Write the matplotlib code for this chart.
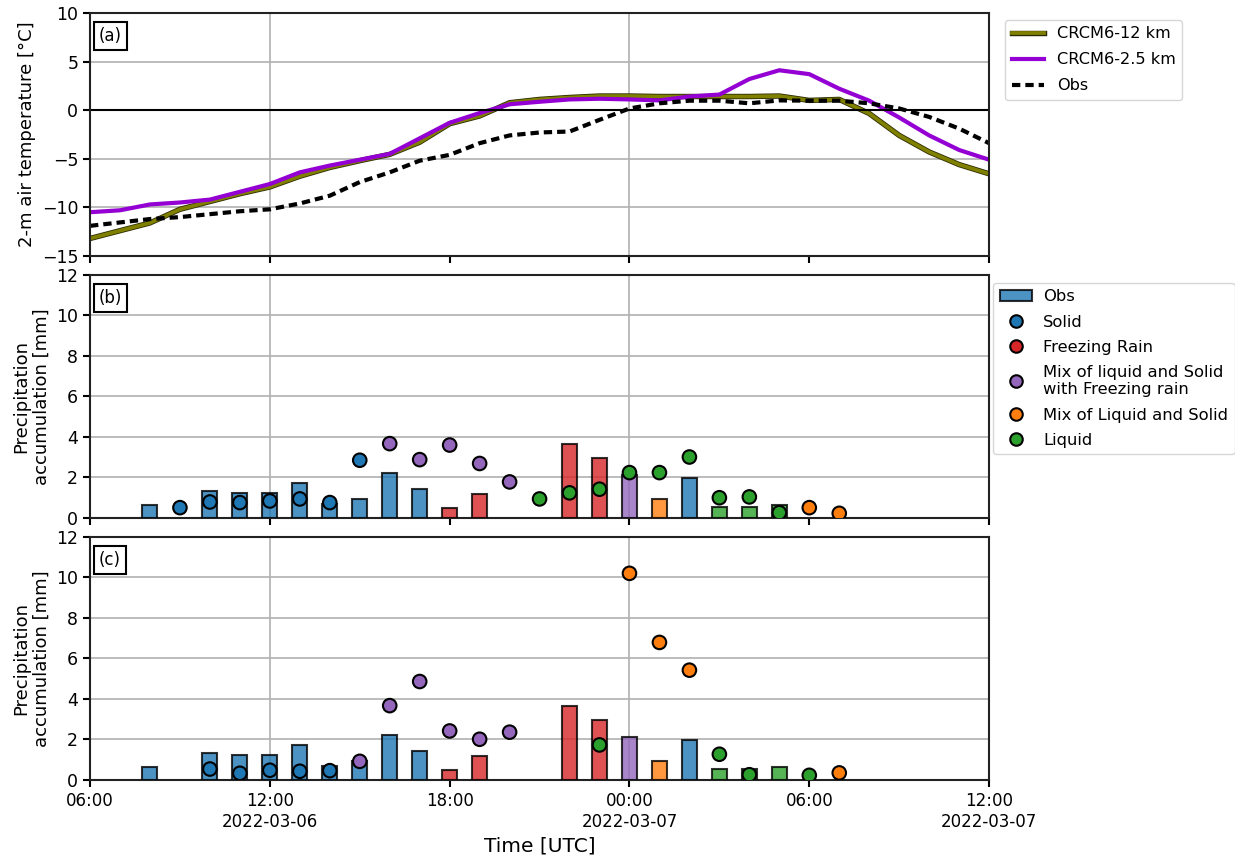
import numpy as np
import pandas as pd
import matplotlib
matplotlib.use("Agg")
import matplotlib.pyplot as plt
import matplotlib.dates as mdates
import matplotlib.patheffects as pe
from matplotlib.patches import Patch
from matplotlib.lines import Line2D

plt.rcParams['font.size'] = 12

# hourly time axis, 2022-03-06 06 UTC -> 2022-03-07 12 UTC
times = pd.date_range("2022-03-06 06:00", "2022-03-07 12:00", freq="h")

# 2-m air temperature [degC]
t_12km = [-13.2, -12.4, -11.6, -10.2, -9.4, -8.6, -7.9, -6.8, -5.9, -5.2, -4.55,
          -3.3, -1.4, -0.6, 0.76, 1.1, 1.3, 1.45, 1.45, 1.4, 1.4, 1.4, 1.4, 1.45,
          1.0, 1.1, -0.35, -2.6, -4.3, -5.6, -6.55]
t_25km = [-10.5, -10.3, -9.7, -9.5, -9.2, -8.4, -7.6, -6.4, -5.7, -5.1, -4.5,
          -2.9, -1.3, -0.3, 0.6, 0.86, 1.1, 1.17, 1.1, 1.0, 1.4, 1.6, 3.2, 4.1,
          3.7, 2.2, 0.97, -0.76, -2.6, -4.1, -5.1]
t_obs = [-11.9, -11.55, -11.2, -11.0, -10.7, -10.4, -10.2, -9.6, -8.8, -7.4, -6.4,
         -5.2, -4.6, -3.4, -2.6, -2.3, -2.2, -1.0, 0.17, 0.7, 0.97, 0.97, 0.7, 1.0,
         0.97, 0.97, 0.7, 0.17, -0.7, -1.9, -3.4]

# precipitation type codes
ptypes = ["Solid", "Freezing Rain", "Mix of liquid and Solid\nwith Freezing rain",
          "Mix of Liquid and Solid", "Liquid"]
pcolors = ["tab:blue", "tab:red", "tab:purple", "tab:orange", "tab:green"]

# observed hourly accumulation [mm] and type (index in ptypes), NaN = no precip
obs_pr = [np.nan, np.nan, 0.66, np.nan, 1.33, 1.25, 1.25, 1.75, 0.7, 0.94, 2.2,
          1.42, 0.49, 1.17, np.nan, np.nan, 3.67, 2.98, 2.12, 0.94, 1.98, 0.56,
          0.56, 0.63, np.nan, np.nan, np.nan, np.nan, np.nan, np.nan, np.nan]
obs_type = [0, 0, 0, 0, 0, 0, 0, 0, 0, 0, 0, 0, 1, 1, 1, 1, 1, 1, 2, 3, 0, 4, 4, 4,
            4, 4, 4, 4, 4, 4, 4]

# CRCM6-12 km
m12_pr = [np.nan, np.nan, np.nan, 0.51, 0.79, 0.76, 0.84, 0.94, 0.76, 2.85, 3.67,
          2.88, 3.6, 2.69, 1.78, 0.94, 1.24, 1.42, 2.24, 2.24, 3.01, 1.0, 1.04,
          0.26, 0.51, 0.23, np.nan, np.nan, np.nan, np.nan, np.nan]
m12_type = [0, 0, 0, 0, 0, 0, 0, 0, 0, 0, 2, 2, 2, 2, 2, 4, 4, 4, 4, 4, 4, 4, 4, 4,
            3, 3, 3, 3, 3, 3, 3]

# CRCM6-2.5 km
m25_pr = [np.nan, np.nan, np.nan, np.nan, 0.54, 0.33, 0.48, 0.43, 0.46, 0.92, 3.67,
          4.86, 2.42, 2.01, 2.36, np.nan, np.nan, 1.73, 10.2, 6.79, 5.42, 1.27,
          0.26, np.nan, 0.23, 0.35, np.nan, np.nan, np.nan, np.nan, np.nan]
m25_type = [0, 0, 0, 0, 0, 0, 0, 0, 0, 2, 2, 2, 2, 2, 2, 4, 4, 4, 3, 3, 3, 4, 4, 4,
            4, 3, 3, 3, 3, 3, 3]

fig = plt.figure(figsize=(12.35, 8.59), dpi=100)
ax1 = fig.add_axes([0.0729, 0.702, 0.728, 0.283])
ax2 = fig.add_axes([0.0729, 0.397, 0.728, 0.283], sharex=ax1)
ax3 = fig.add_axes([0.0729, 0.092, 0.728, 0.283], sharex=ax1)

# --- temperature panel
def outlined(lw):
    return [pe.Stroke(linewidth=lw + 1.2, foreground="#2b2b00"), pe.Normal()]

ax1.plot(times, t_12km, color="olive", lw=2.7, path_effects=outlined(2.7), label="CRCM6-12 km")
ax1.plot(times, t_25km, color="darkviolet", lw=3, label="CRCM6-2.5 km")
ax1.plot(times, t_obs, color="k", lw=3, ls=(0, (2, 1.2)), label="Obs")
ax1.axhline(0, color="k", lw=1.5)
ax1.set_ylim(-15, 10)
ax1.set_yticks([-15, -10, -5, 0, 5, 10])
ax1.set_ylabel("2-m air temperature [°C]", fontsize=13)
ax1.legend(loc="upper left", bbox_to_anchor=(1.0178, 0.971), borderaxespad=0,
           fontsize=11.6, labelspacing=0.68)

# --- precipitation panels
bar_w = pd.Timedelta(minutes=30)
for ax, pr, typ in [(ax2, m12_pr, m12_type), (ax3, m25_pr, m25_type)]:
    bar_cols = [pcolors[k] for k in obs_type]
    ax.bar(times, obs_pr, width=bar_w, color=bar_cols, alpha=0.8,
           edgecolor="k", linewidth=1.5, zorder=3)
    dot_cols = [pcolors[k] for k in typ]
    ax.scatter(times, pr, c=dot_cols, s=95, edgecolors="k", linewidths=1.5, zorder=4)
    ax.set_ylim(0, 12)
    ax.set_yticks(np.arange(0, 13, 2))
    ax.set_ylabel("Precipitation\naccumulation [mm]", fontsize=13)

handles = [Patch(facecolor="tab:blue", alpha=0.8, edgecolor="k", linewidth=1.5, label="Obs")]
for name, col in zip(ptypes, pcolors):
    handles.append(Line2D([], [], ls="none", marker="o", markersize=9, markerfacecolor=col,
                          markeredgecolor="k", markeredgewidth=1.5, label=name))
ax2.legend(handles=handles, loc="upper left", bbox_to_anchor=(1.0044, 0.967),
           borderaxespad=0, fontsize=11.8, handletextpad=0.65, labelspacing=0.62)

for ax, tag in zip([ax1, ax2, ax3], ["(a)", "(b)", "(c)"]):
    ax.text(0.0095, 0.94, tag, transform=ax.transAxes, va="top", ha="left", fontsize=12,
            bbox=dict(boxstyle="square,pad=0.3", facecolor="white", edgecolor="k", linewidth=1.5),
            zorder=6)
    ax.grid(True, axis="y", color="#b0b0b0", lw=1.2)
    ax.grid(True, axis="x", which="major", color="#b0b0b0", lw=1.2)
    ax.set_axisbelow(True)
    for s in ax.spines.values():
        s.set_linewidth(1.5)
        s.set_color("#222222")
    ax.tick_params(which="both", length=5, width=1.5, labelsize=12.5)

ax1.set_xlim(times[0], times[-1])
ax3.xaxis.set_major_locator(mdates.HourLocator(byhour=[0, 12]))
ax3.xaxis.set_major_formatter(mdates.DateFormatter("%H:%M\n%Y-%m-%d"))
ax3.xaxis.set_minor_locator(mdates.HourLocator(byhour=[6, 18]))
ax3.xaxis.set_minor_formatter(mdates.DateFormatter("%H:%M"))
ax3.tick_params(axis="x", which="both", labelsize=12)
for ax in [ax1, ax2]:
    ax.tick_params(axis="x", which="both", labelbottom=False)
ax3.set_xlabel("Time [UTC]", fontsize=14.5)

fig.savefig("out.png", dpi=100)
